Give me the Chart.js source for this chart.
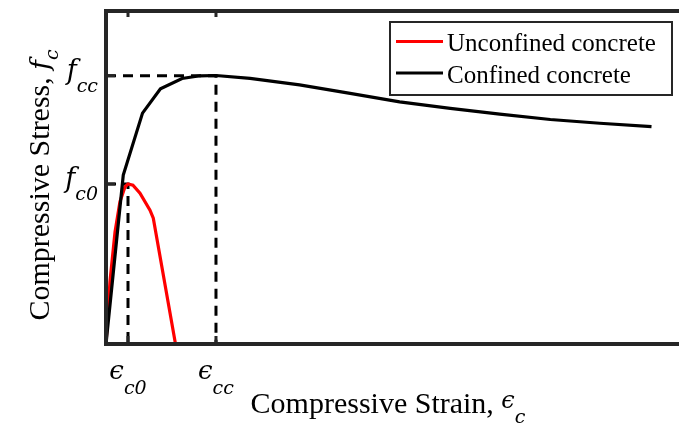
<!DOCTYPE html>
<html>
<head>
<meta charset="utf-8">
<script src="https://cdn.jsdelivr.net/npm/chart.js@4"></script>
<style>
  body { margin: 0; background: #fff; }
  #wrap { width: 679px; height: 447px; position: relative; }
</style>
</head>
<body>
<div id="wrap"><canvas id="myChart"></canvas></div>
<script>
// data (strain, stress in MPa)
const unconfStrain = [0, 0.00036, 0.00082, 0.00127, 0.00173, 0.002, 0.00245, 0.00309, 0.004, 0.0043, 0.00632];
const unconfStress = [0, 11.7, 21.0, 26.7, 29.5, 30.0, 29.8, 28.3, 25.1, 23.6, 0];
const confStrain = [0, 0.00157, 0.00332, 0.00495, 0.00691, 0.00855, 0.01, 0.0131, 0.0176, 0.0222, 0.0267, 0.0313, 0.0358, 0.0404, 0.0449, 0.0496];
const confStress = [0, 31.7, 43.3, 47.85, 49.8, 50.3, 50.35, 49.8, 48.6, 47.0, 45.4, 44.2, 43.1, 42.1, 41.4, 40.75];

const seriesLabels = ['Unconfined concrete', 'Confined concrete'];
const seriesColors = ['#ff0000', '#000000'];

// special ticks
const xTickValues = [0.002, 0.01];
const xTickSubs = ['c0', 'cc'];
const yTickValues = [30, 50.3];
const yTickSubs = ['c0', 'cc'];

const xMax = 0.0521;
const yMax = 62.45;

const toXY = (xs, ys) => xs.map((x, i) => ({ x: x, y: ys[i] }));

const serif = '"Liberation Serif", "Times New Roman", serif';
const mathFont = size => 'italic ' + size + 'px "DejaVu Serif", ' + serif;

// draws main text + lowered subscript, returns width
const drawSub = (ctx, main, sub, x, y, mainFont, subFont, drop) => {
    ctx.font = mainFont;
    const w1 = ctx.measureText(main).width;
    ctx.fillText(main, x, y);
    ctx.font = subFont;
    ctx.fillText(sub, x + w1, y + drop);
    return w1 + ctx.measureText(sub).width;
};
const measureSub = (ctx, main, sub, mainFont, subFont) => {
    ctx.font = mainFont;
    const w1 = ctx.measureText(main).width;
    ctx.font = subFont;
    return w1 + ctx.measureText(sub).width;
};

const axesPlugin = {
    id: 'axesPlugin',
    afterDraw(chart) {
        const ctx = chart.ctx;
        const a = chart.chartArea;
        const xs = chart.scales.x;
        const ys = chart.scales.y;
        ctx.save();
        ctx.strokeStyle = '#262626';
        ctx.lineWidth = 4;
        ctx.beginPath();
        ctx.moveTo(a.left, a.top);
        ctx.lineTo(chart.width, a.top);
        ctx.moveTo(a.left, a.top - 2);
        ctx.lineTo(a.left, a.bottom + 2);
        ctx.moveTo(a.left - 2, a.bottom);
        ctx.lineTo(chart.width, a.bottom);
        ctx.stroke();

        // inward ticks
        ctx.lineWidth = 3;
        ctx.beginPath();
        xTickValues.forEach(v => {
            const px = xs.getPixelForValue(v);
            ctx.moveTo(px, a.bottom);
            ctx.lineTo(px, a.bottom - 8);
            ctx.moveTo(px, a.top);
            ctx.lineTo(px, a.top + 6);
        });
        yTickValues.forEach(v => {
            const py = ys.getPixelForValue(v);
            ctx.moveTo(a.left, py);
            ctx.lineTo(a.left + 9, py);
        });
        ctx.stroke();

        ctx.fillStyle = '#000';
        ctx.textBaseline = 'alphabetic';
        ctx.textAlign = 'left';

        // y tick labels f_c0, f_cc
        yTickValues.forEach((v, i) => {
            const py = ys.getPixelForValue(v);
            const w = measureSub(ctx, 'f', yTickSubs[i], mathFont(27), mathFont(19));
            drawSub(ctx, 'f', yTickSubs[i], a.left - 8 - w, py + 3, mathFont(27), mathFont(19), 13);
        });

        // x tick labels eps_c0, eps_cc
        xTickValues.forEach((v, i) => {
            const px = xs.getPixelForValue(v);
            const w = measureSub(ctx, '\u03f5', xTickSubs[i], mathFont(26), mathFont(19));
            drawSub(ctx, '\u03f5', xTickSubs[i], px - w / 2, 379, mathFont(26), mathFont(19), 15);
        });

        // x title
        const tFont = '30px ' + serif;
        ctx.font = tFont;
        const tw = ctx.measureText('Compressive Strain, ').width;
        const ew = measureSub(ctx, '\u03f5', 'c', mathFont(24), mathFont(19));
        const tx = 388 - (tw + ew) / 2;
        ctx.font = tFont;
        ctx.fillText('Compressive Strain, ', tx, 413);
        drawSub(ctx, '\u03f5', 'c', tx + tw, 408, mathFont(24), mathFont(19), 15);

        // y title
        ctx.save();
        ctx.translate(49, 185);
        ctx.rotate(-Math.PI / 2);
        ctx.font = tFont;
        const yw = ctx.measureText('Compressive Stress, ').width;
        const fw = measureSub(ctx, 'f', 'c', mathFont(26), mathFont(19));
        const ty = -(yw + fw) / 2;
        ctx.font = tFont;
        ctx.fillText('Compressive Stress, ', ty, 0);
        drawSub(ctx, 'f', 'c', ty + yw, 0, mathFont(26), mathFont(19), 9);
        ctx.restore();

        // legend box, entries in series order
        ctx.fillStyle = '#fff';
        ctx.fillRect(390, 22, 282, 73);
        ctx.strokeStyle = '#262626';
        ctx.lineWidth = 2;
        ctx.strokeRect(390, 22, 282, 73);
        seriesLabels.forEach((lbl, i) => {
            const d = chart.data.datasets.find(ds => ds.label === lbl);
            const ly = 41.5 + i * 31.5;
            ctx.strokeStyle = d.borderColor;
            ctx.lineWidth = 3;
            ctx.beginPath();
            ctx.moveTo(396, ly);
            ctx.lineTo(443, ly);
            ctx.stroke();
            ctx.fillStyle = '#000';
            ctx.font = '25px ' + serif;
            ctx.fillText(d.label, 447, ly + 9.5);
        });
        ctx.restore();
    }
};

const ctx = document.getElementById('myChart').getContext('2d');
new Chart(ctx, {
    type: 'line',
    data: {
        datasets: [
            {
                label: seriesLabels[1],
                data: toXY(confStrain, confStress),
                borderColor: seriesColors[1],
                borderWidth: 3.2,
                pointRadius: 0,
                tension: 0
            },
            {
                label: seriesLabels[0],
                data: toXY(unconfStrain, unconfStress),
                borderColor: seriesColors[0],
                borderWidth: 3.2,
                pointRadius: 0,
                tension: 0
            },
            {
                label: '',
                data: [{ x: 0, y: yTickValues[1] }, { x: xTickValues[1], y: yTickValues[1] }, { x: xTickValues[1], y: 0 }],
                borderColor: '#000',
                borderWidth: 3,
                borderDash: [10, 7],
                pointRadius: 0
            },
            {
                label: '',
                data: [{ x: 0, y: yTickValues[0] }, { x: xTickValues[0], y: yTickValues[0] }, { x: xTickValues[0], y: 0 }],
                borderColor: '#000',
                borderWidth: 3,
                borderDash: [10, 7],
                pointRadius: 0
            }
        ]
    },
    options: {
        responsive: true,
        maintainAspectRatio: false,
        animation: false,
        layout: { padding: { left: 106, top: 11, right: 0, bottom: 103 } },
        plugins: { legend: { display: false }, tooltip: { enabled: false } },
        scales: {
            x: { type: 'linear', min: 0, max: xMax, display: false },
            y: { type: 'linear', min: 0, max: yMax, display: false }
        }
    },
    plugins: [axesPlugin]
});
</script>
</body>
</html>
